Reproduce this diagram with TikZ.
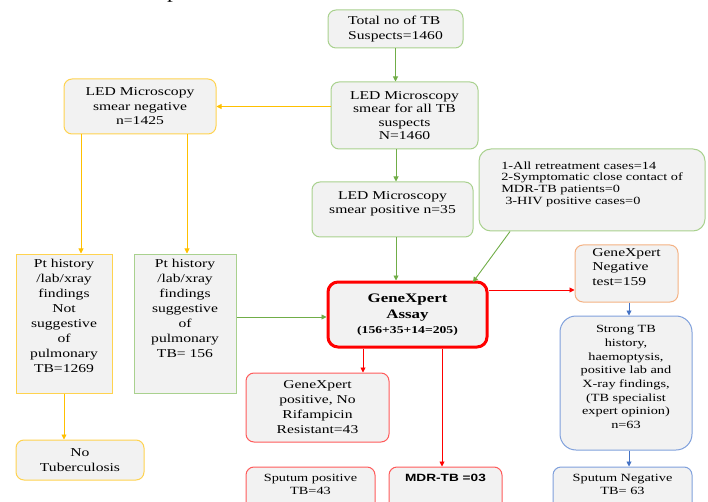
\documentclass[tikz,border=0pt]{standalone}
\usepackage{fontspec}
\setmainfont{Liberation Serif}[FakeStretch=1.3]
\newfontfamily\arialfont{Liberation Sans}[FakeStretch=1.3]
\usetikzlibrary{arrows.meta}
\definecolor{boxfill}{HTML}{F2F2F2}
\definecolor{grnline}{HTML}{A9D18E}
\definecolor{grnarr}{HTML}{70AD47}
\definecolor{ylwline}{HTML}{FFD34F}
\definecolor{ylwarr}{HTML}{FFC000}
\definecolor{redline}{HTML}{FF5A5A}
\definecolor{redarr}{HTML}{FF0000}
\definecolor{orgline}{HTML}{F4B183}
\definecolor{bluline}{HTML}{7FA0DC}
\definecolor{bluarr}{HTML}{4472C4}
\tikzset{
  box/.style={draw, fill=boxfill, line width=1pt, rounded corners=8pt, align=center, inner sep=2pt,
    font=\fontsize{12}{14.5}\selectfont},
  sqbox/.style={box, rounded corners=0pt, font=\fontsize{12}{15}\selectfont},
  con/.style={line width=0.9pt, -{Triangle[length=5pt,width=5pt]}},
}
\begin{document}
\begin{tikzpicture}[x=1pt,y=-1pt]
\useasboundingbox (0,0) rectangle (708,502);
\begin{scope}
\clip (0,0) rectangle (708,502);
\node[anchor=base west, inner sep=0, font=\fontsize{18}{18}\selectfont] (ttl) at (167,-1.2) {p};
\end{scope}

\node[box, draw=grnline, minimum width=135, minimum height=38, align=left] (total) at (395.5,29)
  {Total no of TB\\Suspects=1460};
\node[box, draw=grnline, minimum width=147, minimum height=67, font=\fontsize{12}{13.5}\selectfont] (ledall) at (404.5,115.5)
  {LED Microscopy\\smear for all TB\\suspects\\N=1460};
\node[box, draw=ylwline, minimum width=152, minimum height=55] (ledneg) at (140,106.5)
  {LED Microscopy\\smear negative\\n=1425};
\node[box, draw=grnline, minimum width=161, minimum height=55, text depth=14pt] (ledpos) at (392.5,209.5)
  {LED Microscopy\\smear positive n=35};
\node[box, draw=grnline, minimum width=226, minimum height=82, align=left, text depth=14pt,
  rounded corners=12pt, font=\fontsize{11}{11.7}\selectfont] (retreat) at (592,190)
  {1-All retreatment cases=14\\2-Symptomatic close contact of\\MDR-TB patients=0\\\hspace*{4pt}3-HIV positive cases=0};

\node[sqbox, draw=ylwline, minimum width=96, minimum height=139, text depth=16pt] (notsug) at (64,323.5)
  {Pt history\\/lab/xray\\findings\\Not\\suggestive\\of\\pulmonary\\TB=1269};
\node[sqbox, draw=grnline, minimum width=102, minimum height=139, text depth=30pt] (sug) at (185,323.5)
  {Pt history\\/lab/xray\\findings\\suggestive\\of\\pulmonary\\TB= 156};
\node[box, draw=ylwline, minimum width=128, minimum height=40, font=\fontsize{12}{15}\selectfont] (notb) at (80,460)
  {No\\Tuberculosis};

\node[box, draw=redarr, line width=3pt, minimum width=159, minimum height=65, rounded corners=10pt,
  font=\bfseries\fontsize{13}{16.5}\selectfont] (gx) at (407.5,314.5)
  {GeneXpert\\Assay\\[-2pt]{\fontsize{10.5}{12}\selectfont (156+35+14=205)}};
\node[box, draw=redline, minimum width=143, minimum height=69, font=\fontsize{12}{15}\selectfont] (gxpos) at (317.5,407.5)
  {GeneXpert\\positive, No\\Rifampicin\\Resistant=43};
\node[box, draw=redline, minimum width=129, minimum height=45, text depth=11pt, font=\fontsize{11}{13}\selectfont] (sputpos) at (310.5,489.5)
  {Sputum positive\\TB=43};
\node[box, draw=redline, minimum width=113, minimum height=45, text depth=24pt, font=\arialfont\bfseries\fontsize{10.5}{12}\selectfont] (mdr) at (445.5,489.5)
  {MDR-TB =03};

\node[box, draw=orgline, minimum width=103, minimum height=57, align=left, text depth=13pt,
  font=\fontsize{12}{14.5}\selectfont] (gxneg) at (626.5,273.5)
  {GeneXpert\\Negative\\test=159};
\node[box, draw=bluline, minimum width=132, minimum height=134, rounded corners=16pt, text depth=12pt,
  font=\fontsize{11}{13.7}\selectfont] (strong) at (626,383)
  {Strong TB\\history,\\haemoptysis,\\positive lab and\\X-ray findings,\\(TB specialist\\expert opinion)\\n=63};
\node[box, draw=bluline, minimum width=139, minimum height=45, text depth=11pt, font=\fontsize{11}{13}\selectfont] (sputneg) at (622.5,489.5)
  {Sputum Negative\\TB= 63};

% connectors
\draw[con, grnarr] (total.south) -- (total.south |- ledall.north);
\draw[con, ylwarr] (ledall.west |- ledneg.east) -- (ledneg.east);
\draw[con, grnarr] ([xshift=-8.5]ledall.south) -- ([xshift=-8.5]ledall.south |- ledpos.north);
\draw[con, ylwarr] ([xshift=-59]ledneg.south) -- ([xshift=-59]ledneg.south |- notsug.north);
\draw[con, ylwarr] ([xshift=47]ledneg.south) -- ([xshift=47]ledneg.south |- sug.north);
\draw[con, ylwarr] (notsug.south) -- (notsug.south |- notb.north);
\draw[con, grnarr] ([yshift=6.5]sug.east) -- ([yshift=6.5]sug.east -| gx.west);
\draw[con, grnarr] ([xshift=3.5]ledpos.south) -- ([xshift=3.5]ledpos.south |- gx.north);
\draw[con, grnarr] ([xshift=-82]retreat.south) -- ([xshift=65.5,yshift=-1.5]gx.north);
\draw[con, redarr] ([yshift=24.5]gx.east) -- ([yshift=24.5]gx.east -| gxneg.west);
\draw[con, redarr] ([xshift=-44.5]gx.south) -- ([xshift=-44.5]gx.south |- gxpos.north);
\draw[con, redarr] ([xshift=34.5]gx.south) -- ([xshift=34.5]gx.south |- mdr.north);
\draw[con, bluarr] ([xshift=2.5]gxneg.south) -- ([xshift=2.5]gxneg.south |- strong.north);
\draw[con, bluarr] ([xshift=3]strong.south) -- ([xshift=3]strong.south |- sputneg.north);
\end{tikzpicture}
\end{document}
